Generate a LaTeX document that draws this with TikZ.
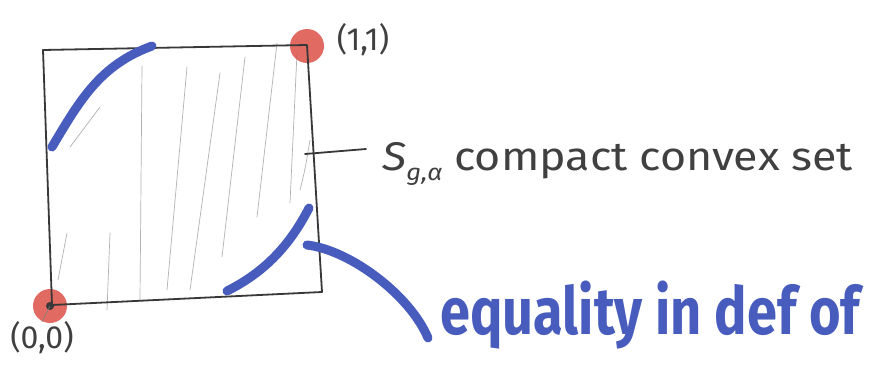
\documentclass[tikz,border=0pt]{standalone}
\usepackage{fontspec}
\setmainfont{Fira Sans}
\begin{document}
\begin{tikzpicture}[x=1pt,y=-1pt,
  pen/.style={draw=black!78, line width=1.8pt, line join=round, line cap=round},
  hatch/.style={draw=black!30, line width=0.7pt, line cap=round},
  marker/.style={draw=markblue, line width=9pt, line cap=round},
  dotred/.style={circle, fill=dotred, opacity=0.85, minimum size=34pt, inner sep=0pt},
  lbl/.style={font=\fontsize{32}{36}\selectfont\color{black!75}, inner sep=0pt}]
\definecolor{markblue}{RGB}{72,92,190}
\definecolor{dotred}{RGB}{220,80,72}
\useasboundingbox (0,0) rectangle (878,369);
\fill[white] (0,0) rectangle (878,369);
% hatching
\draw[hatch] (167,290) -- (187,67);
\draw[hatch] (190,290) -- (220,73);
\draw[hatch] (222,257) -- (245,57);
\draw[hatch] (257,217) -- (277,43);
\draw[hatch] (290,203) -- (297,53);
\draw[hatch] (70,147) -- (100,107);
\draw[hatch] (58,280) -- (67,233);
\draw[hatch] (107,310) -- (110,233);
\draw[hatch] (140,300) -- (142,66);
\draw[hatch] (300,190) .. controls (305,170) .. (310,140);
% red dots
\node[dotred] (p00) at (50,306) {};
\node[dotred] (p11) at (307,46) {};
% square
\coordinate (tl) at (43,50);
\coordinate (tr) at (307,45);
\coordinate (br) at (322,292);
\coordinate (bl) at (52,305);
\draw[pen] (tl) -- (tr) -- (br) -- (bl) -- cycle;
\fill[black!78] (p00.center) circle (4pt);
% blue markers
\draw[marker] (52,147) .. controls (80,100) and (100,65) .. (152,46);
\draw[marker] (227,291) .. controls (265,272) and (290,245) .. (309,208);
\draw[marker] (307,245) .. controls (350,250) and (410,295) .. (428,338);
% labels
\node[lbl, anchor=center] (l00) at (42,338) {(0,0)};
\node[lbl, anchor=center] (l11) at (363,40) {(1,1)};
\draw[draw=black!50, line width=0.6pt] (l00.north) -- (p00.center);
\coordinate (s) at (305,154);
\coordinate (e) at (366,149);
\draw[pen] (s) -- (e);
\node[anchor=base west, inner sep=0pt, font=\fontsize{40}{44}\selectfont\color{black!75}] (txt) at (382,170) {\scalebox{1.12}[1]{{\itshape S}\raisebox{-0.25em}{\fontsize{23}{25}\selectfont\itshape g,α} compact convex set}};
\node[anchor=base west, inner sep=0pt, text=markblue] (eq) at (440,334) {\scalebox{0.82}[1]{\fontsize{66}{70}\selectfont\bfseries equality in def of}};
\end{tikzpicture}
\end{document}
